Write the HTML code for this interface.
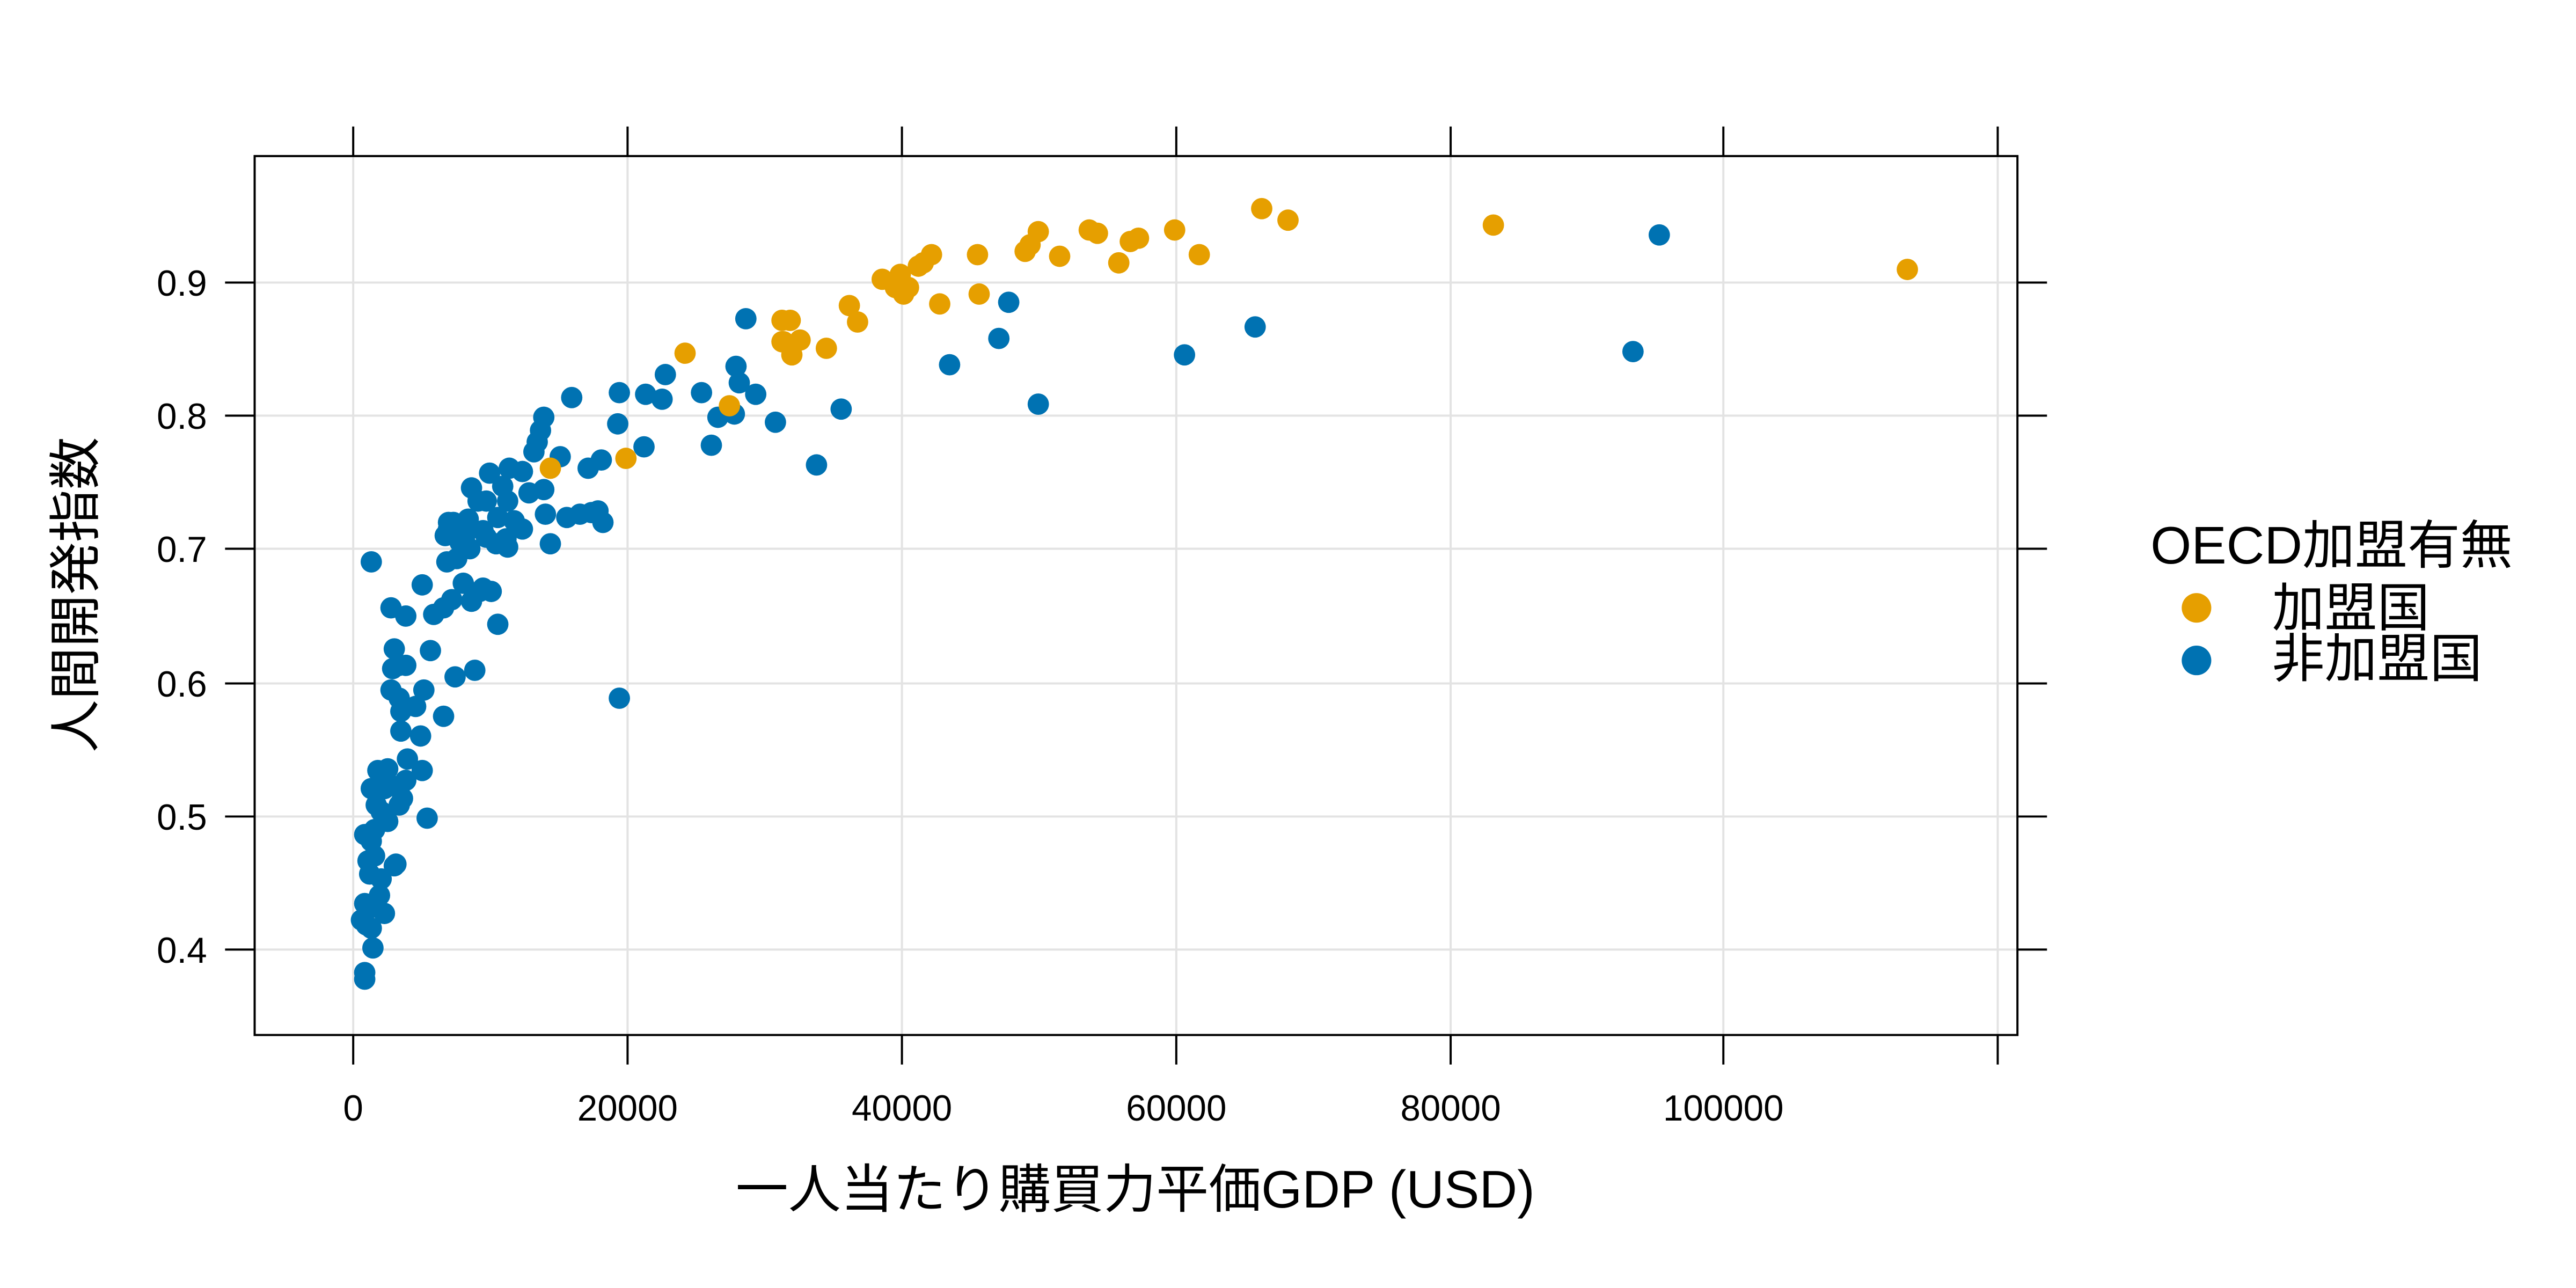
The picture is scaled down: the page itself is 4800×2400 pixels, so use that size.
<!DOCTYPE html>
<html><head><meta charset="utf-8">
<style>html,body{margin:0;padding:0;background:#fff}svg{display:block}
text{font-family:"Liberation Sans","Noto Sans CJK JP",sans-serif;fill:#000}</style></head>
<body>
<svg width="4800" height="2400" viewBox="0 0 1568 784" xmlns="http://www.w3.org/2000/svg">
<rect width="1568" height="784" fill="#fff"/>
<g stroke="#e3e3e3" stroke-width="1.3">
<line x1="155" x2="1228" y1="578" y2="578"/><line x1="155" x2="1228" y1="497" y2="497"/>
<line x1="155" x2="1228" y1="416" y2="416"/><line x1="155" x2="1228" y1="334" y2="334"/>
<line x1="155" x2="1228" y1="253" y2="253"/><line x1="155" x2="1228" y1="172" y2="172"/>
<line y1="95" y2="630" x1="215" x2="215"/><line y1="95" y2="630" x1="382" x2="382"/>
<line y1="95" y2="630" x1="549" x2="549"/><line y1="95" y2="630" x1="716" x2="716"/>
<line y1="95" y2="630" x1="883" x2="883"/><line y1="95" y2="630" x1="1049" x2="1049"/>
<line y1="95" y2="630" x1="1216" x2="1216"/>
</g>
<rect x="155" y="95" width="1073" height="535" fill="none" stroke="#000" stroke-width="1.3"/>
<g stroke="#000" stroke-width="1.3">
<path d="M215 95v-18M382 95v-18M549 95v-18M716 95v-18M883 95v-18M1049 95v-18M1216 95v-18"/>
<path d="M215 630v18M382 630v18M549 630v18M716 630v18M883 630v18M1049 630v18M1216 630v18"/>
<path d="M155 578h-18M155 497h-18M155 416h-18M155 334h-18M155 253h-18M155 172h-18"/>
<path d="M1228 578h18M1228 497h18M1228 416h18M1228 334h18M1228 253h18M1228 172h18"/>
</g>
<g font-size="22" text-anchor="end">
<text x="126" y="586">0.4</text><text x="126" y="505">0.5</text><text x="126" y="424">0.6</text>
<text x="126" y="342">0.7</text><text x="126" y="261">0.8</text><text x="126" y="180">0.9</text>
</g>
<g font-size="22" text-anchor="middle">
<text x="215" y="682">0</text><text x="382" y="682">20000</text><text x="549" y="682">40000</text>
<text x="716" y="682">60000</text><text x="883" y="682">80000</text><text x="1049" y="682">100000</text>
</g>
<text x="691" y="735" font-size="32" text-anchor="middle">一人当たり購買力平価GDP (USD)</text>
<text transform="translate(57,362) rotate(-90)" font-size="32" text-anchor="middle">人間開発指数</text>
<g id="b" fill="#0072B2"></g>
<g id="o" fill="#E69F00"></g>
<text x="1309" y="343" font-size="32">OECD加盟有無</text>
<circle cx="1337" cy="370" r="9" fill="#E69F00"/><text x="1383" y="381" font-size="32">加盟国</text>
<circle cx="1337" cy="402" r="9" fill="#0072B2"/><text x="1383" y="412" font-size="32">非加盟国</text>
</svg>
<script>
var B=[[1010,143],[994,214],[764,199],[721,216],[632,246],[614,184],[608,206],[578,222],[512,249],[497,283],[472,257],[454,194],[460,240],[448,223],[450,233],[447,252],[433,271],[437,254],[427,239],[405,228],[403,243],[393,240],[392,272],[377,239],[376,258],[377,425],[366,280],[364,311],[367,318],[360,312],[358,285],[353,313],[348,242],[345,315],[341,278],[335,331],[332,313],[331,298],[331,254],[329,262],[327,269],[325,275],[318,287],[322,300],[318,322],[313,317],[310,285],[309,305],[306,296],[303,315],[298,288],[296,305],[291,305],[294,323],[296,327],[302,331],[308,328],[294,358],[287,297],[285,316],[283,326],[276,318],[273,318],[273,322],[271,326],[280,330],[286,334],[272,342],[282,355],[278,340],[292,360],[287,366],[275,365],[270,370],[264,374],[262,396],[257,356],[247,375],[238,370],[238,420],[243,405],[247,405],[240,395],[239,407],[243,425],[244,433],[244,445],[253,430],[258,420],[256,448],[257,469],[260,498],[248,462],[247,475],[245,486],[243,490],[238,478],[236,468],[234,480],[240,527],[232,494],[230,469],[229,490],[228,505],[226,512],[224,524],[228,521],[225,532],[232,535],[222,508],[222,550],[228,552],[226,565],[223,563],[220,560],[227,577],[222,592],[222,596],[226,342],[241,526],[236,500],[226,480],[231,545],[234,556],[270,436],[277,412],[289,408],[303,380],[299,360],[309,333]];
var O=[[335,285],[381,279],[417,215],[444,247],[476,195],[481,195],[477,208],[482,216],[487,207],[503,212],[517,186],[522,196],[537,170],[548,167],[550,179],[553,175],[559,162],[562,160],[567,155],[572,185],[595,155],[596,179],[624,153],[627,149],[632,141],[645,156],[663,140],[668,142],[681,160],[688,147],[693,145],[715,140],[730,155],[768,127],[784,134],[909,137],[1161,164],[545,175],[476,208]];
function d(id,a){var g=document.getElementById(id),s='';a.forEach(function(p){s+='<circle cx="'+p[0]+'" cy="'+p[1]+'" r="6.5"/>';});g.innerHTML=s;}
d('b',B);d('o',O);
</script>
</body></html>
